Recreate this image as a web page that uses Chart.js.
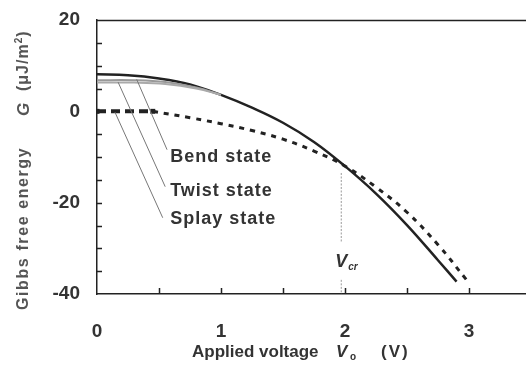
<!DOCTYPE html>
<html lang="en">
<head>
  <meta charset="UTF-8">
  <title>Gibbs free energy vs applied voltage</title>
  <script src="https://cdn.jsdelivr.net/npm/chart.js"></script>
  <style>
    body { margin: 0; padding: 0; background: #fff; }
    .chart-box { width: 526px; height: 369px; }
  </style>
</head>
<body>
  <div class="chart-box">
    <canvas id="gibbsChart" width="526" height="369"></canvas>
  </div>

  <script>
    // values
    const bendV = [0, 0.25, 0.5, 0.75, 1, 1.25, 1.5, 1.75, 2, 2.25, 2.5, 2.75, 2.9];
    const bendG = [8.1, 7.9, 7.2, 5.9, 3.6, 0.8, -2.5, -6.7, -12.0, -18.0, -24.9, -32.6, -37.3];

    const twistV = [0, 0.3, 0.55, 0.8, 1.0];
    const twistG = [6.8, 6.8, 6.4, 5.2, 3.6];
    const splayV = [0, 0.3, 0.55, 0.8, 1.0];
    const splayG = [6.3, 6.3, 6.0, 5.0, 3.6];

    const uniformHeadV = [0, 0.45];
    const uniformHeadG = [0, 0];
    const uniformV = [0.45, 0.75, 1, 1.25, 1.5, 1.75, 2, 2.25, 2.5, 2.75, 2.98];
    const uniformG = [0, -1.4, -2.7, -4.2, -6.1, -8.7, -12.0, -16.6, -22.1, -29.2, -36.9];

    const stateLabels = ['Bend state', 'Twist state', 'Splay state'];
    const leaderFrom = [[0.32, 7.0], [0.17, 6.4], [0.145, -0.2]];
    const leaderTo = [[0.565, -8.4], [0.55, -16.5], [0.53, -23.3]];
    const labelAt = [[0.59, -9.9], [0.59, -17.4], [0.59, -23.5]];

    const vCr = 1.97;
    const yTickLabels = [20, 0, -20, -40];
    const xTickLabels = [0, 1, 2, 3];

    const toPts = (xs, ys) => xs.map((x, i) => ({ x: x, y: ys[i] }));
    const ink = '#222';

    const leaderSets = leaderFrom.map((p, i) => ({
      data: toPts([p[0], leaderTo[i][0]], [p[1], leaderTo[i][1]]),
      borderColor: '#777', borderWidth: 1, pointRadius: 0, tension: 0
    }));

    function noPad(s) {
      s.paddingLeft = 0; s.paddingRight = 0; s.paddingTop = 0; s.paddingBottom = 0;
    }

    // inward tick marks, top frame line, annotations, axis titles
    const decor = {
      id: 'decor',
      afterDatasetsDraw(chart) {
        const c = chart.ctx;
        const a = chart.chartArea;
        const xs = chart.scales.x, ys = chart.scales.y;
        c.save();
        c.strokeStyle = ink;
        c.lineWidth = 1.5;
        c.beginPath();
        c.moveTo(a.left, a.top + 0.5); c.lineTo(a.right, a.top + 0.5);
        ys.ticks.forEach(t => {
          if (t.value % 5 !== 0 || t.value === 20 || t.value === -40) return;
          const py = Math.round(ys.getPixelForValue(t.value)) + 0.5;
          c.moveTo(a.left, py); c.lineTo(a.left + 5, py);
        });
        xs.ticks.forEach(t => {
          if (Math.abs(t.value * 2 - Math.round(t.value * 2)) > 1e-6 || t.value === 0) return;
          const px = Math.round(xs.getPixelForValue(t.value)) + 0.5;
          c.moveTo(px, a.bottom); c.lineTo(px, a.bottom - 6);
        });
        c.stroke();

        // V_cr marker
        const px = xs.getPixelForValue(vCr);
        c.strokeStyle = '#999';
        c.lineWidth = 1;
        c.setLineDash([2, 1.5]);
        c.beginPath();
        c.moveTo(px, ys.getPixelForValue(-13.5)); c.lineTo(px, ys.getPixelForValue(-28.8));
        c.moveTo(px, ys.getPixelForValue(-36.9)); c.lineTo(px, ys.getPixelForValue(-40));
        c.stroke();
        c.setLineDash([]);
        c.fillStyle = '#333';
        c.textBaseline = 'middle';
        c.textAlign = 'left';
        c.font = 'italic bold 18px Arial';
        const vy = ys.getPixelForValue(-33.0);
        c.fillText('V', px - 6, vy);
        c.font = 'italic bold 10px Arial';
        c.fillText('cr', px + 7, vy + 5);

        // state labels
        c.font = 'bold 18px Arial';
        c.letterSpacing = '1px';
        c.fillStyle = '#333';
        stateLabels.forEach((s, i) => {
          c.fillText(s, xs.getPixelForValue(labelAt[i][0]), ys.getPixelForValue(labelAt[i][1]));
        });
        c.letterSpacing = '0px';

        // x title
        c.fillStyle = '#333';
        c.textAlign = 'left';
        const ty = 352;
        c.font = 'bold 17px Arial';
        c.fillText('Applied voltage', 192, ty);
        c.font = 'italic bold 17px Arial';
        c.fillText('V', 336, ty);
        c.font = 'bold 10px Arial';
        c.fillText('o', 350, ty + 5);
        c.font = 'bold 17px Arial';
        c.letterSpacing = '2px';
        c.fillText('(V)', 381, ty);
        c.letterSpacing = '0px';

        // y title (rotated)
        c.translate(24, 310);
        c.rotate(-Math.PI / 2);
        c.fillStyle = '#555';
        c.letterSpacing = '1.6px';
        c.font = 'bold 16px Arial';
        c.fillText('Gibbs free energy', 0, 0);
        c.letterSpacing = '0px';
        c.font = 'italic bold 17px Arial';
        c.fillText('G', 194, 0);
        c.letterSpacing = '1px';
        c.font = 'bold 16px Arial';
        let sx = 219;
        c.fillText('(\u03BCJ/m', sx, 0);
        sx += c.measureText('(\u03BCJ/m').width;
        c.font = 'bold 10px Arial';
        c.fillText('2', sx, -5);
        sx += c.measureText('2').width;
        c.font = 'bold 16px Arial';
        c.fillText(')', sx, 0);
        c.restore();
      }
    };

    const ctx = document.getElementById('gibbsChart').getContext('2d');
    const gibbsChart = new Chart(ctx, {
      type: 'line',
      data: {
        datasets: [
          ...leaderSets,
          {
            data: toPts(splayV, splayG),
            borderColor: '#aaa', borderWidth: 2, pointRadius: 0, tension: 0.4
          },
          {
            data: toPts(twistV, twistG),
            borderColor: '#999', borderWidth: 2, pointRadius: 0, tension: 0.4
          },
          {
            data: toPts(uniformV, uniformG),
            borderColor: ink, borderWidth: 3, borderDash: [5, 6], pointRadius: 0, tension: 0.4
          },
          {
            data: toPts(uniformHeadV, uniformHeadG),
            borderColor: ink, borderWidth: 4, borderDash: [9, 5], tension: 0,
            pointRadius: 3.5, pointStyle: 'rect', pointBackgroundColor: ink, pointBorderWidth: 0
          },
          {
            data: toPts(bendV, bendG),
            borderColor: ink, borderWidth: 2.5, pointRadius: 0, tension: 0.4
          }
        ]
      },
      options: {
        responsive: false,
        animation: false,
        events: [],
        layout: { autoPadding: false, padding: { top: 20, right: 0, left: 0, bottom: 0 } },
        plugins: {
          legend: { display: false },
          tooltip: { enabled: false }
        },
        scales: {
          x: {
            type: 'linear',
            min: 0,
            max: 3.46,
            grid: { display: false, drawTicks: false },
            border: { display: true, color: ink, width: 1.5 },
            ticks: {
              stepSize: 0.5,
              autoSkip: false,
              includeBounds: false,
              maxRotation: 0,
              padding: 26,
              color: '#333',
              font: { family: 'Arial', size: 19, weight: 'bold' },
              callback: v => xTickLabels.includes(v) ? String(v) : ''
            },
            afterFit: s => { s.height = 75; noPad(s); }
          },
          y: {
            type: 'linear',
            min: -40,
            max: 20,
            grid: { display: false, drawTicks: false },
            border: { display: true, color: ink, width: 1.5 },
            ticks: {
              stepSize: 5,
              autoSkip: false,
              padding: 17,
              color: '#333',
              font: { family: 'Arial', size: 19, weight: 'bold' },
              callback: v => yTickLabels.includes(v) ? String(v) : ''
            },
            afterFit: s => { s.width = 97; noPad(s); }
          }
        }
      },
      plugins: [decor]
    });
  </script>
</body>
</html>
